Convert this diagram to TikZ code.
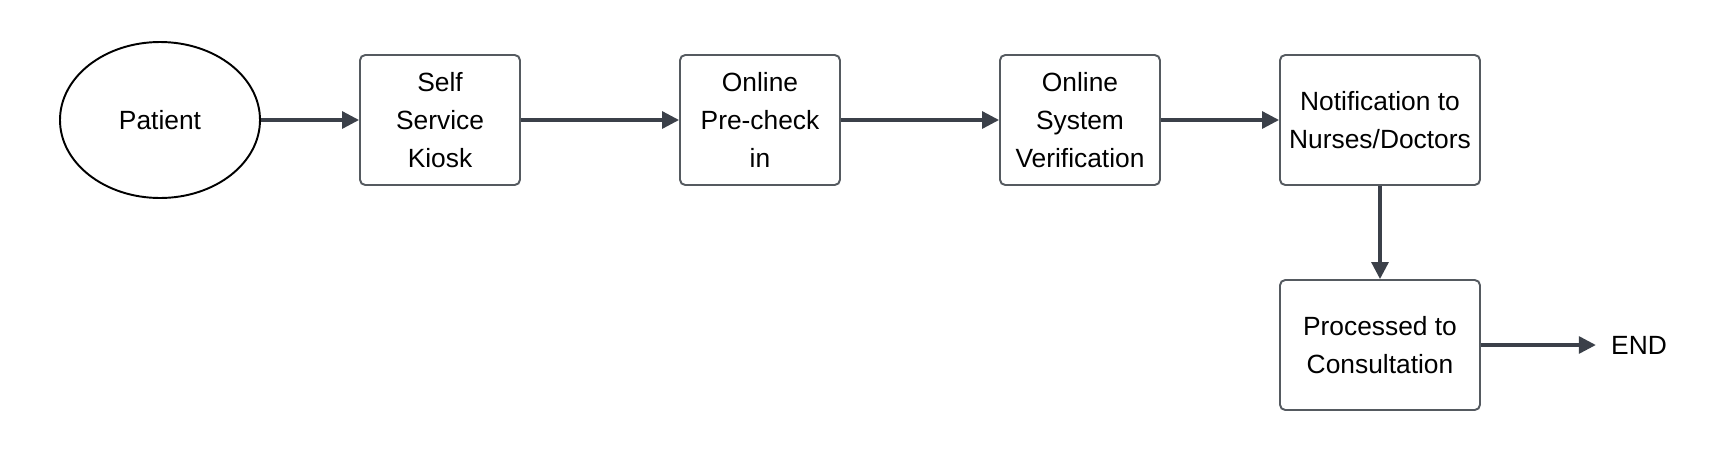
\documentclass[tikz,border=0pt]{standalone}
\usepackage{fontspec}
\setmainfont{Liberation Sans}
\usetikzlibrary{arrows.meta,shapes.geometric}

\definecolor{lineclr}{HTML}{3B4049}
\definecolor{boxclr}{HTML}{555A60}

\tikzset{
    stagebox/.style={rectangle, draw=boxclr, line width=1.1pt, rounded corners=3pt,
        minimum width=3.2cm, minimum height=2.6cm, align=center, font=\fontsize{15}{21.5}\selectfont},
    startnode/.style={ellipse, draw=black, line width=1.1pt, minimum width=4cm,
        minimum height=3.12cm, font=\fontsize{15}{21.5}\selectfont},
    flow/.style={draw=lineclr, line width=1.8pt, -{Triangle[length=0.34cm, width=0.34cm]}}
}

\begin{document}
\begin{tikzpicture}
% Fix the page to the reference size
\useasboundingbox (0,0) rectangle (34.4,9.02);

% Top row of stages
\node[startnode] (patient) at (3.2,6.62) {Patient};
\node[stagebox] (kiosk) at (8.8,6.62) {Self\\Service\\Kiosk};
\node[stagebox] (precheck) at (15.2,6.62) {Online\\Pre-check\\in};
\node[stagebox] (verify) at (21.6,6.62) {Online\\System\\Verification};
\node[stagebox, minimum width=4cm] (notify) at (27.6,6.62) {Notification to\\Nurses/Doctors};

% Last stage and the end
\node[stagebox, minimum width=4cm] (consult) at (27.6,2.12) {Processed to\\Consultation};
\node[inner xsep=0.3cm, font=\fontsize{15}{21.5}\selectfont] (finish) at (32.78,2.12) {END};

% Connectors
\draw[flow] (patient) -- (kiosk);
\draw[flow] (kiosk) -- (precheck);
\draw[flow] (precheck) -- (verify);
\draw[flow] (verify) -- (notify);
\draw[flow] (notify) -- (consult);
\draw[flow] (consult) -- (finish);

\end{tikzpicture}
\end{document}
